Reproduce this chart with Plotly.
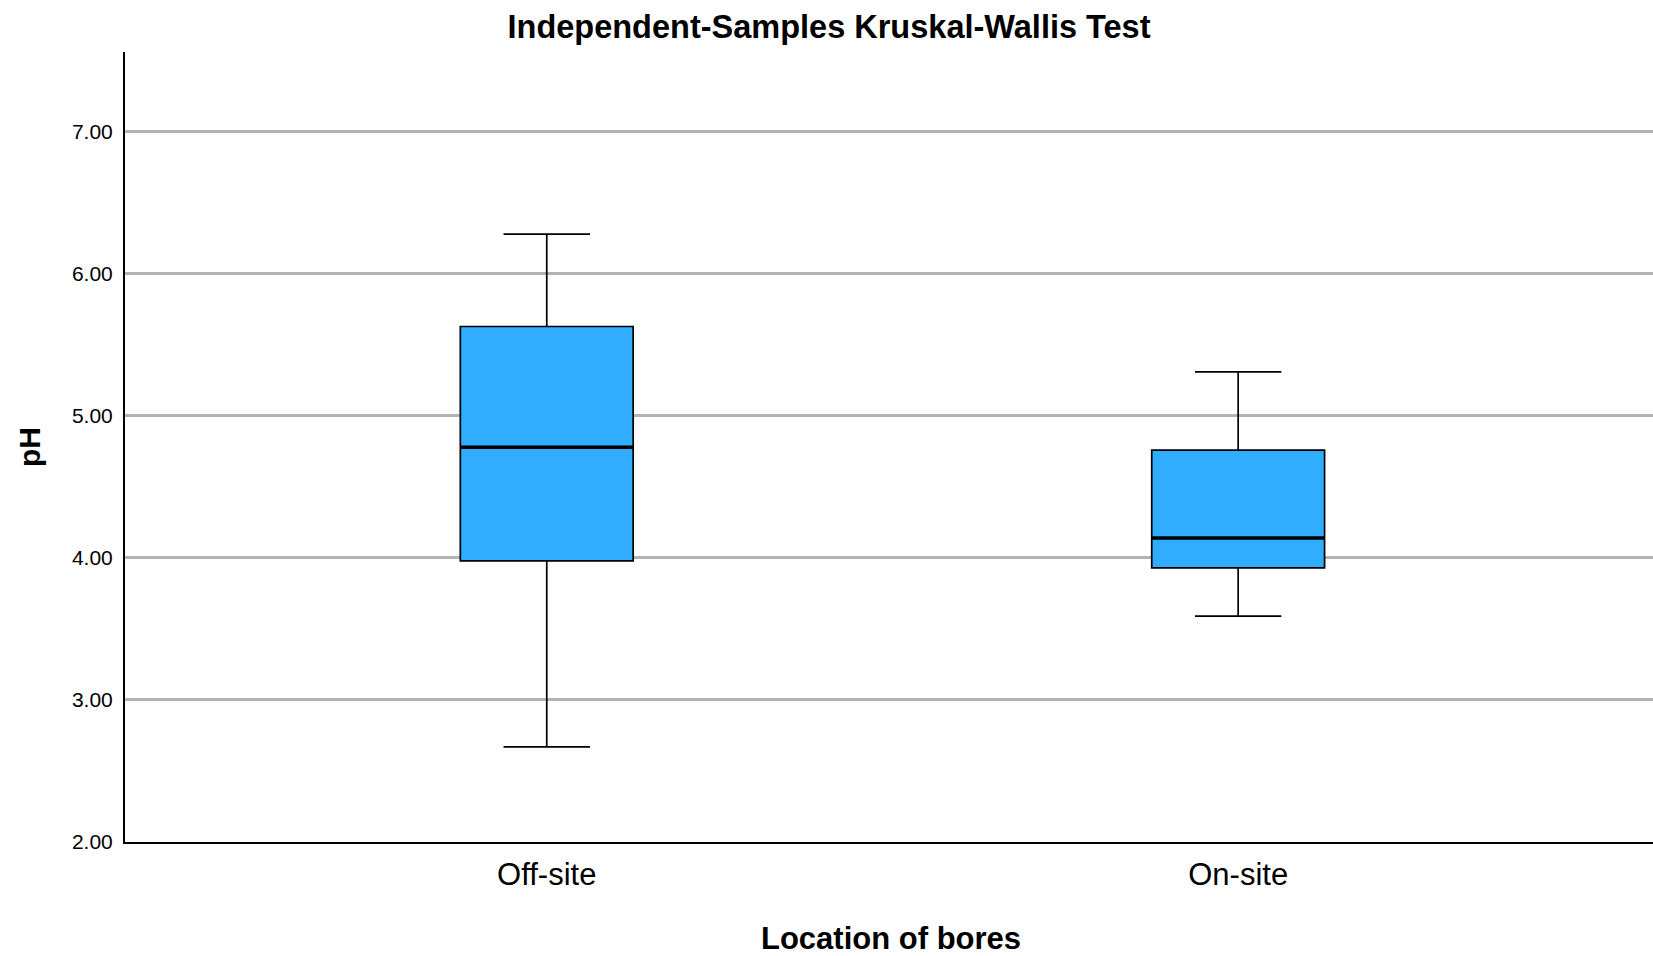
import plotly.graph_objects as go

# pH summary per bore location (five-number summary)
locations = ["Off-site", "On-site"]
positions = [0, 1]
lower_whisker = [2.67, 3.59]
q1 = [3.98, 3.93]
median = [4.78, 4.14]
q3 = [5.63, 4.76]
upper_whisker = [6.28, 5.31]

y_ticks = [2, 3, 4, 5, 6, 7]

BOX_WIDTH = 0.25
FILL = "#31ADFF"
FONT = "Liberation Sans, Arial, sans-serif"

fig = go.Figure()

fig.add_trace(go.Box(
    x=positions,
    q1=q1,
    median=median,
    q3=q3,
    lowerfence=lower_whisker,
    upperfence=upper_whisker,
    width=BOX_WIDTH,
    whiskerwidth=0.5,
    fillcolor=FILL,
    line=dict(color="black", width=1.7),
    boxpoints=False,
    hoverinfo="skip",
    showlegend=False,
))

# heavier median bars drawn on top of each box
for pos, med in zip(positions, median):
    fig.add_trace(go.Scatter(
        x=[pos - BOX_WIDTH / 2, pos + BOX_WIDTH / 2],
        y=[med, med],
        mode="lines",
        line=dict(color="black", width=3.5),
        hoverinfo="skip",
        showlegend=False,
    ))

fig.update_layout(
    width=1653,
    height=956,
    margin=dict(l=125, r=0, t=52, b=114),
    paper_bgcolor="white",
    plot_bgcolor="white",
    font=dict(family=FONT, color="black"),
    title=dict(
        text="<b>Independent-Samples Kruskal-Wallis Test</b>",
        font=dict(size=32.5, family=FONT, color="black"),
        x=829 / 1653,
        xanchor="center",
        xref="container",
        y=1 - 27 / 956,
        yref="container",
        yanchor="middle",
    ),
)

fig.update_xaxes(
    range=[-0.61, 1.60],
    tickmode="array",
    tickvals=positions,
    ticktext=locations,
    tickfont=dict(size=31, family=FONT, color="black"),
    showgrid=False,
    zeroline=False,
    showline=True,
    linecolor="black",
    linewidth=2,
    ticks="",
    ticklabelstandoff=4,
    fixedrange=True,
)

fig.update_yaxes(
    range=[2, 7.563],
    tickmode="array",
    tickvals=y_ticks,
    tickformat=".2f",
    tickfont=dict(size=21, family=FONT, color="black"),
    showgrid=True,
    gridcolor="#B3B3B3",
    gridwidth=2.5,
    zeroline=False,
    showline=True,
    linecolor="black",
    linewidth=2,
    ticks="",
    ticklabelstandoff=6,
    fixedrange=True,
)

fig.add_annotation(
    text="<b>Location of bores</b>",
    xref="paper", yref="paper",
    x=0.501, y=-(938 - 842) / (842 - 52),
    xanchor="center", yanchor="middle",
    showarrow=False,
    font=dict(size=31, family=FONT, color="black"),
)

fig.add_annotation(
    text="<b>pH</b>",
    xref="paper", yref="paper",
    x=-(125 - 29) / (1653 - 125), y=0.5,
    xanchor="center", yanchor="middle",
    textangle=-90,
    showarrow=False,
    font=dict(size=30, family=FONT, color="black"),
)

fig.write_html("out.html")
